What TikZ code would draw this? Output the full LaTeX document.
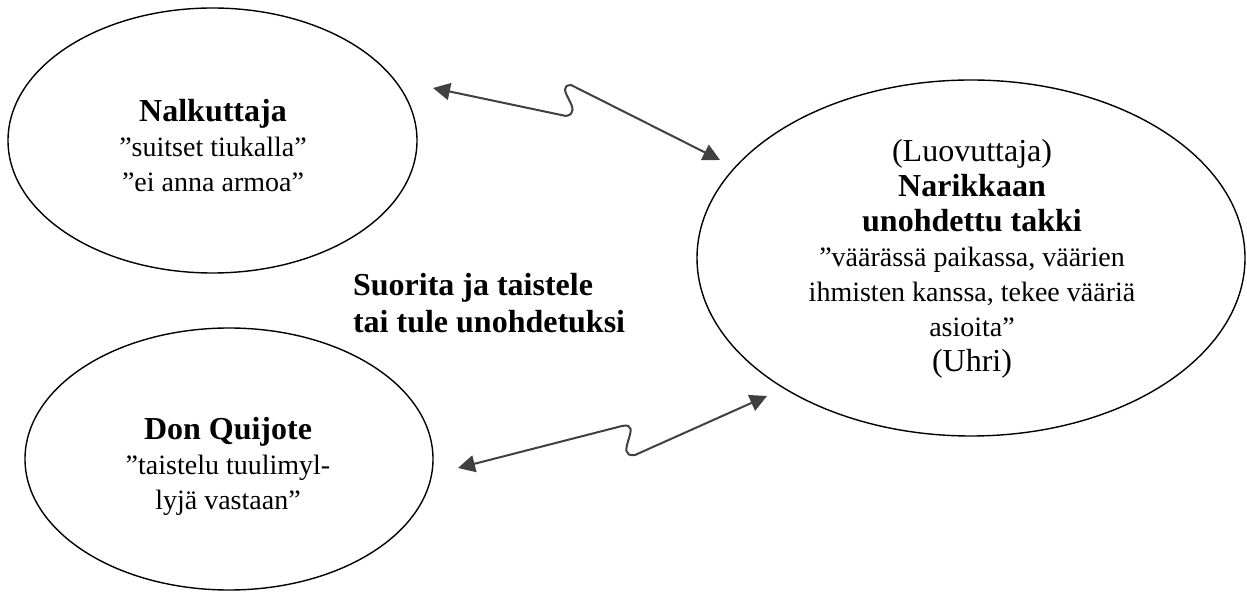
\documentclass[tikz,border=0pt]{standalone}
\usepackage{fontspec}
\setmainfont{Liberation Serif}
\usetikzlibrary{arrows.meta,shapes.geometric}

\newcommand\headline[1]{{\fontsize{16}{17.5}\selectfont #1}}

\begin{document}
\begin{tikzpicture}[
    x=0.5pt, y=-0.5pt,
    font=\fontsize{14}{17.5}\selectfont,
    oval/.style={ellipse, draw=black, line width=0.7pt, inner sep=0pt},
    words/.style={align=center, inner sep=0pt},
    link/.style={<->, >={Triangle[length=8.5pt,width=8.5pt]}, draw=black!75, line width=1pt},
    motto/.style={font=\fontsize{16}{18.5}\selectfont\bfseries, align=left, anchor=west}
  ]
    \useasboundingbox (0,0) rectangle (1247,592);
    \node[oval, minimum width=204.5pt, minimum height=132.5pt] (nal) at (212.5,140.5) {};
    \node[words] (naltext) at (213,146)
      {\headline{\textbf{Nalkuttaja}}\\”suitset tiukalla”\\”ei anna armoa”};
    \node[oval, minimum width=204pt, minimum height=131pt] (don) at (229,459) {};
    \node[words] (dontext) at (228,466)
      {\headline{\textbf{Don Quijote}}\\”taistelu tuulimyl-\\lyjä vastaan”};
    \node[oval, minimum width=274pt, minimum height=178pt] (luo) at (971,258) {};
    \node[words] (luotext) at (972,259)
      {\headline{(Luovuttaja)}\\\headline{\textbf{Narikkaan}}\\\headline{\textbf{unohdettu takki}}\\”väärässä paikassa, väärien\\ihmisten kanssa, tekee vääriä\\asioita”\\\headline{(Uhri)}};
    \node[motto] (motto) at (346,303) {Suorita ja taistele\\tai tule unohdetuksi};

    \coordinate (nalTip) at (433,88);
    \coordinate (topBendA) at (566,116);
    \coordinate (topBendB) at (571,85);
    \coordinate (luoTopTip) at (720,160);
    \draw[link] (nalTip) -- (topBendA) .. controls (586,112) and (552,86) .. (topBendB) -- (luoTopTip);

    \coordinate (donTip) at (458,468);
    \coordinate (lowBendA) at (622,426);
    \coordinate (lowBendB) at (635,455);
    \coordinate (luoLowTip) at (767,396);
    \draw[link] (donTip) -- (lowBendA) .. controls (645,421) and (612,458) .. (lowBendB) -- (luoLowTip);
  \end{tikzpicture}
\end{document}
